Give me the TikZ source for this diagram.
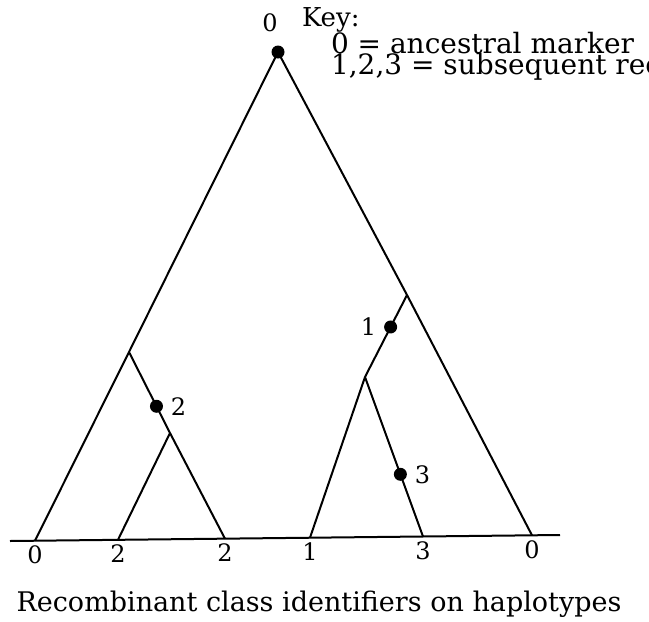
\documentclass[tikz,border=0pt]{standalone}
\usepackage{fontspec}
\setmainfont{DejaVu Serif}
\usepackage{tikz}
\usetikzlibrary{positioning}

\begin{document}
\begin{tikzpicture}[x=0.5pt, y=-0.5pt, line width=1pt,
	every node/.style={font=\fontsize{12}{14}\selectfont, inner sep=1pt},
	mutdot/.style={circle, fill=black, minimum size=6.5pt, inner sep=0pt}]
				\useasboundingbox (0,0) rectangle (649,622);
				\clip (0,0) rectangle (649,622);
				% tree vertices
				\coordinate (root) at (278,52);
				\coordinate (left) at (129,352);
				\coordinate (leftin) at (170,433);
				\coordinate (right) at (407,295);
				\coordinate (rightin) at (365,377);
				\coordinate (h0) at (35,540.7);
				\coordinate (h1) at (118,539.8);
				\coordinate (h2) at (225,538.7);
				\coordinate (h3) at (310,537.7);
				\coordinate (h4) at (423,536.5);
				\coordinate (h5) at (532,535.3);
				\coordinate (base1) at (10,541);
				\coordinate (base2) at (560,535);
				\draw (base1) -- (base2);
				\draw (root) -- (left) -- (h0);
				\draw (root) -- (right) -- (h5);
				\draw (left) -- node[mutdot, pos=0.67] (m2) {} (leftin) -- (h2);
				\draw (leftin) -- (h1);
				\draw (right) -- node[mutdot, pos=0.39] (m1) {} (rightin) -- (h3);
				\draw (rightin) -- node[mutdot, pos=0.61] (m3) {} (h4);
				\node[mutdot] (m0) at (root) {};
				\node[above left=6pt and -4pt of m0] {0};
				\node[right=2pt of m2] {2};
				\node[left=2pt of m1] {1};
				\node[right=2pt of m3] {3};
				% leaf classes
				\node[below=1pt] at (h0) {0};
				\node[below=1pt] at (h1) {2};
				\node[below=1pt] at (h2) {2};
				\node[below=1pt] at (h3) {1};
				\node[below=1pt] at (h4) {3};
				\node[below=1pt] at (h5) {0};
				% key
				\node[anchor=west, font=\fontsize{13}{14}\selectfont] (key) at (299,20) {Key:};
				\node[anchor=north west, align=left, inner sep=0pt,
					font=\fontsize{14}{16}\selectfont] (keytext) at (330,31)
					{0 = ancestral marker\\[-5.5pt]1,2,3 = subsequent recombinations};
				\node[font=\fontsize{13.5}{16}\selectfont] (caption) at (319,604) {Recombinant class identifiers on haplotypes};
			\end{tikzpicture}
\end{document}
